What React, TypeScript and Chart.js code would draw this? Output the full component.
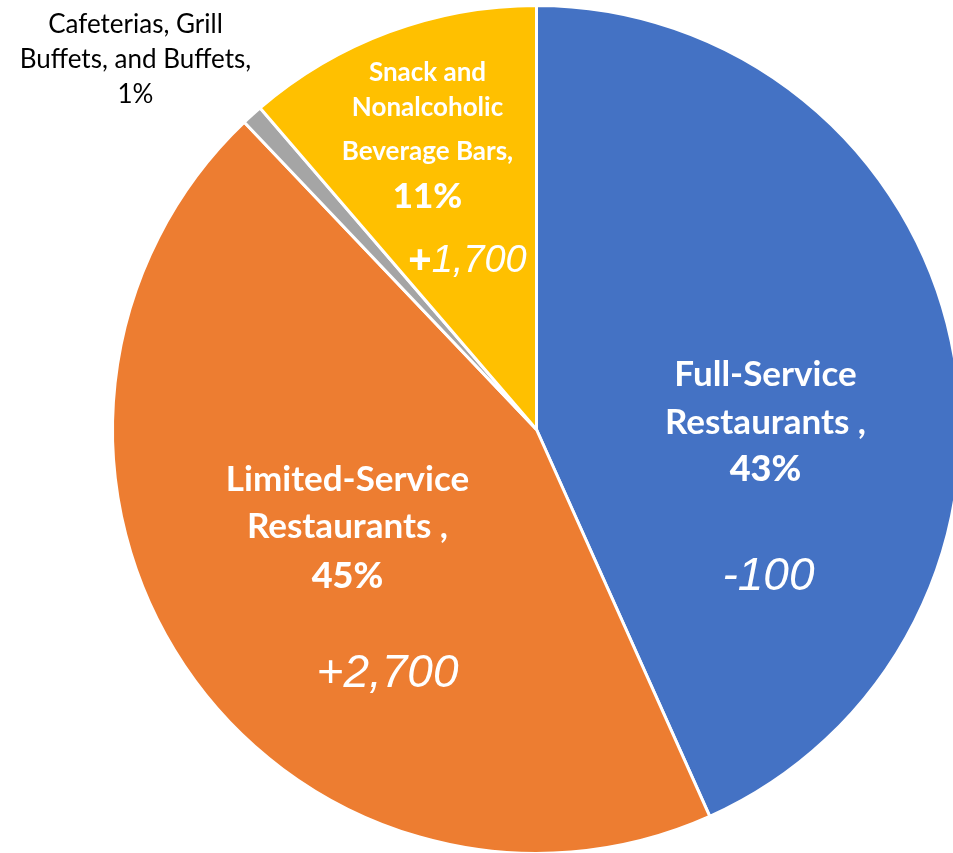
import React, { useEffect, useRef } from "react";
import { Chart, registerables } from "chart.js";

Chart.register(...registerables);

const categories = [
  "Full-Service Restaurants",
  "Limited-Service Restaurants",
  "Cafeterias, Grill Buffets, and Buffets",
  "Snack and Nonalcoholic Beverage Bars",
];
const shares = [43.3, 44.6, 0.8, 11.3];
const shareLabels = ["43%", "45%", "1%", "11%"];
const changeLabels = ["-100", "+2,700", "", "+1,700"];
const colors = ["#4472C4", "#ED7D31", "#A5A5A5", "#FFC000"];

// label layout: name lines, anchor offsets (px from pie center)
const nameLines = [
  ["Full-Service", "Restaurants ,"],
  ["Limited-Service", "Restaurants ,"],
  ["Cafeterias, Grill", "Buffets, and Buffets,"],
  ["Snack and", "Nonalcoholic", "Beverage Bars,"],
];
type LabelStyle = {
  x: number;
  ys: number[];
  font: string;
  pctFont: string;
  color: string;
  changeX: number;
  changeY: number;
  changeFont: string;
  uprightPlus: boolean;
};
const labelStyles: LabelStyle[] = [
  { x: 229, ys: [-55, -7, 40], font: "bold 35px Lato", pctFont: "900 36px Lato", color: "#fff", changeX: 232, changeY: 148, changeFont: "italic 46px 'Liberation Sans'", uprightPlus: false },
  { x: -189, ys: [50, 97, 147], font: "bold 35px Lato", pctFont: "900 36px Lato", color: "#fff", changeX: -149, changeY: 245, changeFont: "italic 46px 'Liberation Sans'", uprightPlus: false },
  { x: -401, ys: [-405, -370, -335], font: "26px Lato", pctFont: "26px Lato", color: "#000", changeX: 0, changeY: 0, changeFont: "", uprightPlus: false },
  { x: -109, ys: [-357, -322, -278, -233], font: "bold 26px Lato", pctFont: "900 35px Lato", color: "#fff", changeX: -69, changeY: -168, changeFont: "italic 38px 'Liberation Sans'", uprightPlus: true },
];

const labelPlugin = {
  id: "sliceLabels",
  afterDatasetsDraw(chart: any) {
    const meta = chart.getDatasetMeta(0);
    const arc = meta.data[0];
    if (!arc) return;
    const cx = arc.x;
    const cy = arc.y;
    const ctx = chart.ctx;
    ctx.save();
    ctx.textBaseline = "middle";
    categories.forEach((_, i) => {
      const st = labelStyles[i];
      ctx.fillStyle = st.color;
      ctx.textAlign = "center";
      const lines = [...nameLines[i], shareLabels[i]];
      lines.forEach((t, j) => {
        ctx.font = j === lines.length - 1 ? st.pctFont : st.font;
        ctx.fillText(t, cx + st.x, cy + st.ys[j]);
      });
      const ch = changeLabels[i];
      if (ch) {
        if (st.uprightPlus && (ch[0] === "+" || ch[0] === "-")) {
          const sign = ch[0];
          const rest = ch.slice(1);
          const signFont = "bold 40px 'Liberation Sans'";
          ctx.font = signFont;
          const sw = ctx.measureText(sign).width;
          ctx.font = st.changeFont;
          const rw = ctx.measureText(rest).width;
          const x0 = cx + st.changeX - (sw + rw) / 2;
          ctx.textAlign = "left";
          ctx.font = signFont;
          ctx.fillText(sign, x0, cy + st.changeY);
          ctx.font = st.changeFont;
          ctx.fillText(rest, x0 + sw, cy + st.changeY);
        } else {
          ctx.textAlign = "center";
          ctx.font = st.changeFont;
          ctx.fillText(ch, cx + st.changeX, cy + st.changeY);
        }
      }
    });
    ctx.restore();
  },
};

export default function App() {
  const ref = useRef<HTMLCanvasElement>(null);
  useEffect(() => {
    if (!ref.current) return;
    const chart = new Chart(ref.current, {
      type: "pie",
      data: {
        labels: categories,
        datasets: [
          {
            data: shares,
            backgroundColor: colors,
            borderColor: "#ffffff",
            borderWidth: 3,
          },
        ],
      },
      options: {
        responsive: false,
        animation: false,
        devicePixelRatio: 1,
        layout: { padding: { left: 111, top: 4, right: 38, bottom: 45 } },
        plugins: { legend: { display: false }, tooltip: { enabled: false } },
      },
      plugins: [labelPlugin],
    });
    return () => chart.destroy();
  }, []);
  return (
    <div
      style={{
        position: "absolute",
        left: 0,
        top: 0,
        width: 953,
        height: 853,
        overflow: "hidden",
        background: "#fff",
      }}
    >
      <canvas ref={ref} width={1000} height={900} style={{ width: 1000, height: 900, display: "block" }} />
    </div>
  );
}
